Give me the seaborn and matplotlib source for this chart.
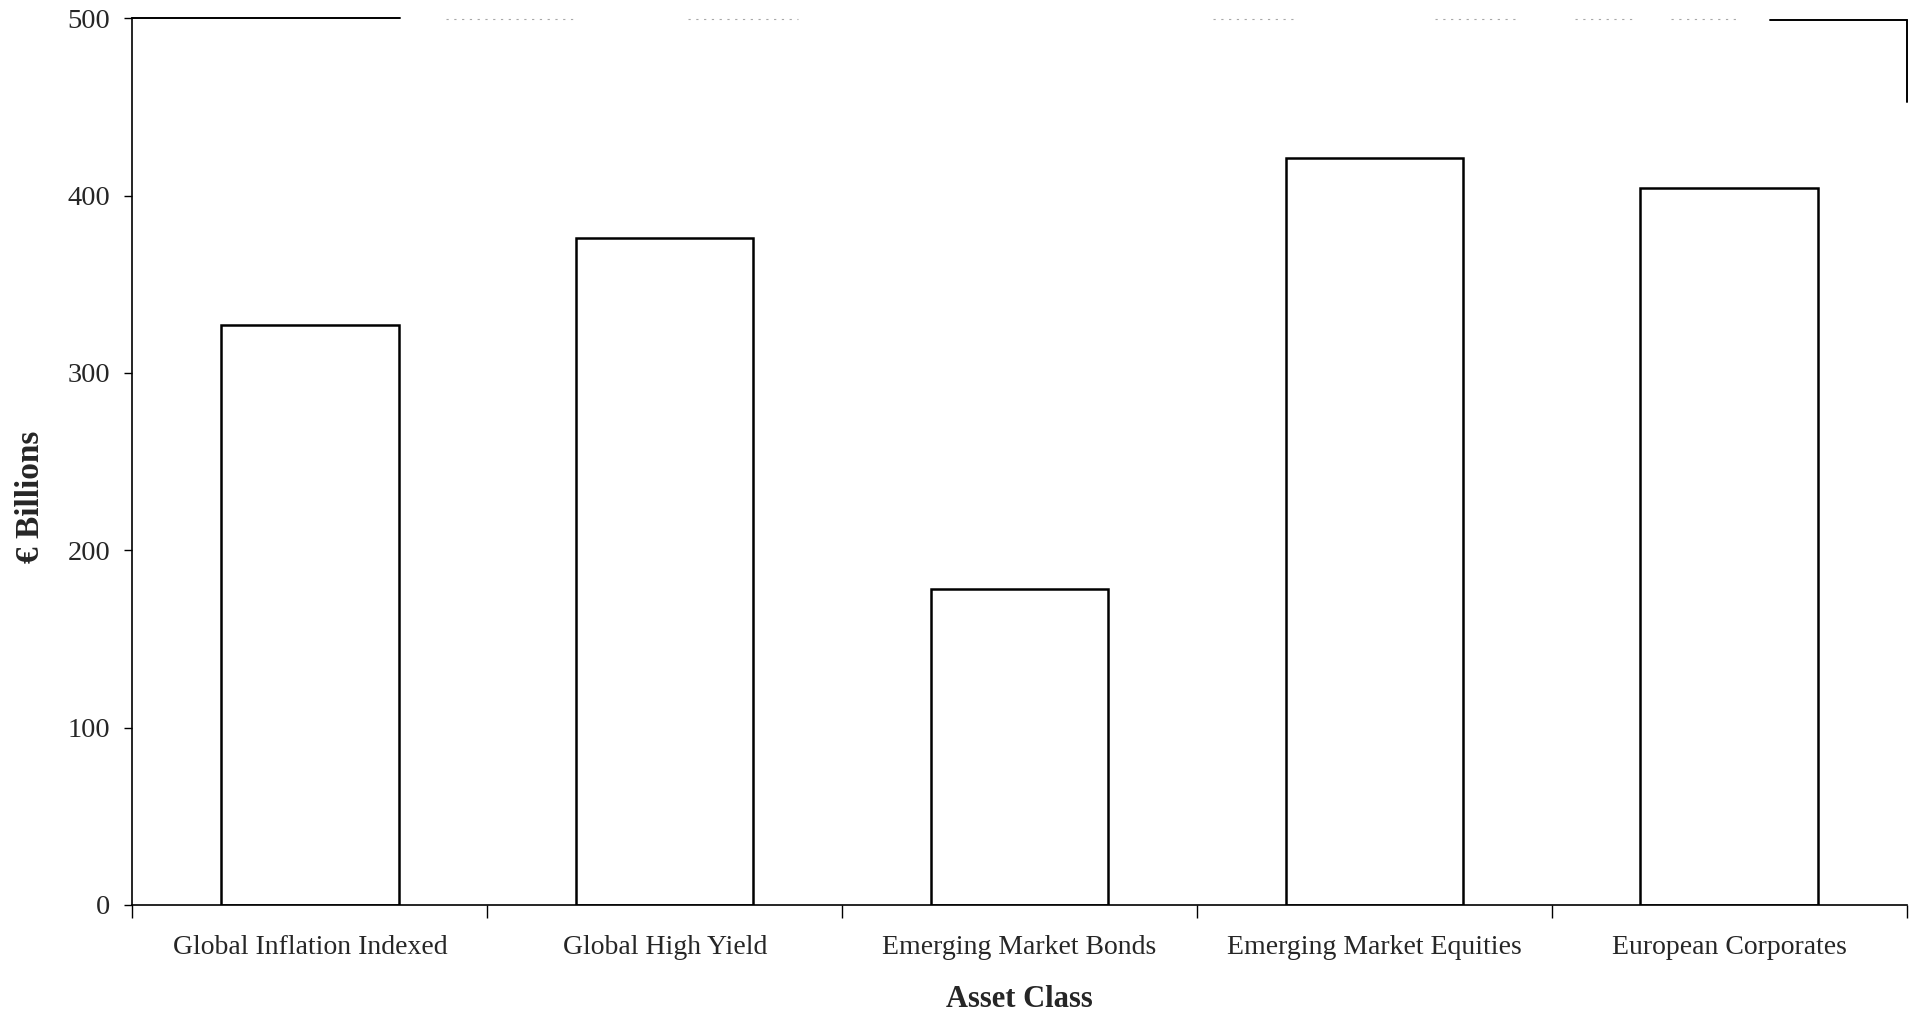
import matplotlib
matplotlib.use("Agg")
import matplotlib.pyplot as plt
import seaborn as sns
import pandas as pd
from matplotlib.ticker import FixedLocator

# Market size by asset class
asset_classes = [
    "Global Inflation Indexed",
    "Global High Yield",
    "Emerging Market Bonds",
    "Emerging Market Equities",
    "European Corporates",
]
billions_eur = [327, 376, 178, 421, 404]
y_ticks = [0, 100, 200, 300, 400, 500]

df = pd.DataFrame({"Asset Class": asset_classes, "Value": billions_eur})

sns.set_theme(style="white")
plt.rcParams["font.family"] = ["Liberation Serif", "DejaVu Serif"]

fig = plt.figure(figsize=(19.2, 10.11), dpi=100)
ax = fig.add_axes([0.069, 0.105, 0.924, 0.877])

sns.barplot(
    data=df, x="Asset Class", y="Value", ax=ax,
    color="white", edgecolor="black", linewidth=1.8, width=0.5,
    saturation=1,
)

ax.set_xlim(-0.5, len(asset_classes) - 0.5)
ax.set_ylim(0, 500)
ax.set_yticks(y_ticks)
ax.set_yticklabels([str(t) for t in y_ticks], fontsize=20.5)

# category labels centred under bars, tick marks on the category boundaries
ax.tick_params(axis="x", which="major", length=0, pad=22, labelsize=20)
ax.xaxis.set_minor_locator(FixedLocator([i - 0.5 for i in range(len(asset_classes) + 1)]))
ax.tick_params(axis="x", which="minor", direction="out", length=9, width=1, color="black", bottom=True)
ax.tick_params(axis="y", which="major", direction="out", length=6, width=1, color="black", left=True, pad=10)

ax.set_xlabel("Asset Class", fontsize=22, fontweight="bold")
ax.set_ylabel("€ Billions", fontsize=24, fontweight="bold")
ax.xaxis.set_label_coords(0.5, -0.09)
ax.yaxis.set_label_coords(-0.049, 0.46)

for side in ["left", "bottom"]:
    ax.spines[side].set_color("black")
    ax.spines[side].set_linewidth(1.2)
ax.spines["top"].set_visible(False)
ax.spines["right"].set_visible(False)

# partial frame along the top and right edges
kw = dict(transform=ax.transAxes, clip_on=False, color="black", lw=1.4)
ax.plot([0, 0.151], [1, 1], **kw)
ax.plot([0.923, 1.0], [0.998, 0.998], **kw)
ax.plot([1.0, 1.0], [0.998, 0.905], **kw)
faint = dict(transform=ax.transAxes, clip_on=False, color="#a8a8a8", lw=0.8, ls=(0, (2, 5)))
for x0, x1 in [(0.177, 0.250), (0.313, 0.375), (0.609, 0.656), (0.734, 0.780), (0.813, 0.845), (0.867, 0.905)]:
    ax.plot([x0, x1], [0.999, 0.999], **faint)

fig.savefig("out.png", dpi=100, facecolor="white")
